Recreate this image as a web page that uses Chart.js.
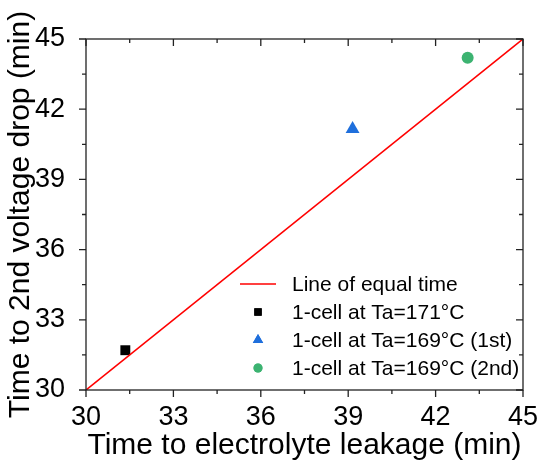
<!DOCTYPE html>
<html>
<head>
<meta charset="utf-8">
<script src="https://cdn.jsdelivr.net/npm/chart.js@4.4.0/dist/chart.umd.min.js"></script>
<style>
  html, body { margin: 0; padding: 0; background: #fff; }
  #wrap { width: 543px; height: 464px; }
</style>
</head>
<body>
<div id="wrap"><canvas id="chart"></canvas></div>
<script>
// values
const equalLine = [{ x: 30, y: 30 }, { x: 45, y: 45 }];
const cell171 = [{ x: 31.35, y: 31.7 }];
const cell169a = [{ x: 39.15, y: 41.15 }];
const cell169b = [{ x: 43.1, y: 44.2 }];
const axisMin = 30, axisMax = 45, majorStep = 3, minorStep = 1.5;

const FONT = "'Liberation Sans', Arial, sans-serif";

// Origin-style frame: ticks out on bottom/left, in on top/right
const frameTicks = {
  id: 'frameTicks',
  afterDraw(chart) {
    const { ctx, chartArea: a, scales: { x, y } } = chart;
    ctx.save();
    ctx.strokeStyle = '#222';
    ctx.lineWidth = 1.3;
    ctx.strokeRect(a.left, a.top, a.right - a.left, a.bottom - a.top);
    ctx.beginPath();
    for (let v = axisMin, i = 0; v <= axisMax + 1e-9; v += minorStep, i++) {
      const len = i % 2 === 0 ? 7 : 4;
      const px = x.getPixelForValue(v);
      const py = y.getPixelForValue(v);
      ctx.moveTo(px, a.bottom); ctx.lineTo(px, a.bottom + len);
      ctx.moveTo(px, a.top); ctx.lineTo(px, a.top + len);
      ctx.moveTo(a.left, py); ctx.lineTo(a.left - len, py);
      ctx.moveTo(a.right, py); ctx.lineTo(a.right - len, py);
    }
    ctx.stroke();
    ctx.restore();
  }
};

// legend inside the plot, lower right
const innerLegend = {
  id: 'innerLegend',
  afterDraw(chart) {
    const { ctx, chartArea: a } = chart;
    const x0 = a.left + 170, y0 = a.bottom - 106, row = 28;
    ctx.save();
    ctx.font = '21px ' + FONT;
    ctx.textBaseline = 'middle';
    chart.data.datasets.forEach((ds, i) => {
      const yy = y0 + i * row;
      if (ds.type === 'line') {
        ctx.strokeStyle = ds.borderColor;
        ctx.lineWidth = 1.5;
        ctx.beginPath();
        ctx.moveTo(x0 - 16, yy); ctx.lineTo(x0 + 20, yy);
        ctx.stroke();
      } else {
        ctx.fillStyle = ds.backgroundColor;
        Chart.helpers.drawPoint(ctx, { pointStyle: ds.pointStyle, radius: ds.pointRadius * 0.75, rotation: 0, borderWidth: 0 }, x0 + 2, yy);
        ctx.fill();
      }
      ctx.fillStyle = '#000';
      ctx.fillText(ds.label, x0 + 36, yy + 1);
    });
    ctx.restore();
  }
};

new Chart(document.getElementById('chart'), {
  type: 'scatter',
  data: {
    datasets: [
      { type: 'line', label: 'Line of equal time', data: equalLine, borderColor: '#ff0000', borderWidth: 1.6, pointRadius: 0, fill: false },
      { label: '1-cell at Ta=171°C', data: cell171, pointStyle: 'rect', pointRadius: 7, backgroundColor: '#000000', borderWidth: 0 },
      { label: '1-cell at Ta=169°C (1st)', data: cell169a, pointStyle: 'triangle', pointRadius: 8, backgroundColor: '#1f6fdc', borderWidth: 0 },
      { label: '1-cell at Ta=169°C (2nd)', data: cell169b, pointStyle: 'circle', pointRadius: 6, backgroundColor: '#3cb371', borderWidth: 0 }
    ]
  },
  options: {
    responsive: true,
    maintainAspectRatio: false,
    animation: false,
    layout: { padding: { top: 39, right: 20, left: 0, bottom: 0 } },
    plugins: { legend: { display: false }, tooltip: { enabled: false } },
    scales: {
      x: {
        min: axisMin, max: axisMax,
        grid: { display: false },
        border: { display: false },
        ticks: { stepSize: majorStep, color: '#000', font: { family: FONT, size: 27 }, padding: 3, maxRotation: 0 },
        title: { display: true, text: 'Time to electrolyte leakage (min)', color: '#000', font: { family: FONT, size: 30 }, padding: { top: 0, bottom: 0 } },
        afterFit(scale) { scale.height = 74; }
      },
      y: {
        min: axisMin, max: axisMax,
        grid: { display: false },
        border: { display: false },
        ticks: { stepSize: majorStep, color: '#000', font: { family: FONT, size: 27 }, padding: 13 },
        title: { display: true, text: 'Time to 2nd voltage drop (min)', color: '#000', font: { family: FONT, size: 30 }, padding: { top: 3, bottom: 0 } },
        afterFit(scale) { scale.width = 86; }
      }
    }
  },
  plugins: [frameTicks, innerLegend]
});
</script>
</body>
</html>
